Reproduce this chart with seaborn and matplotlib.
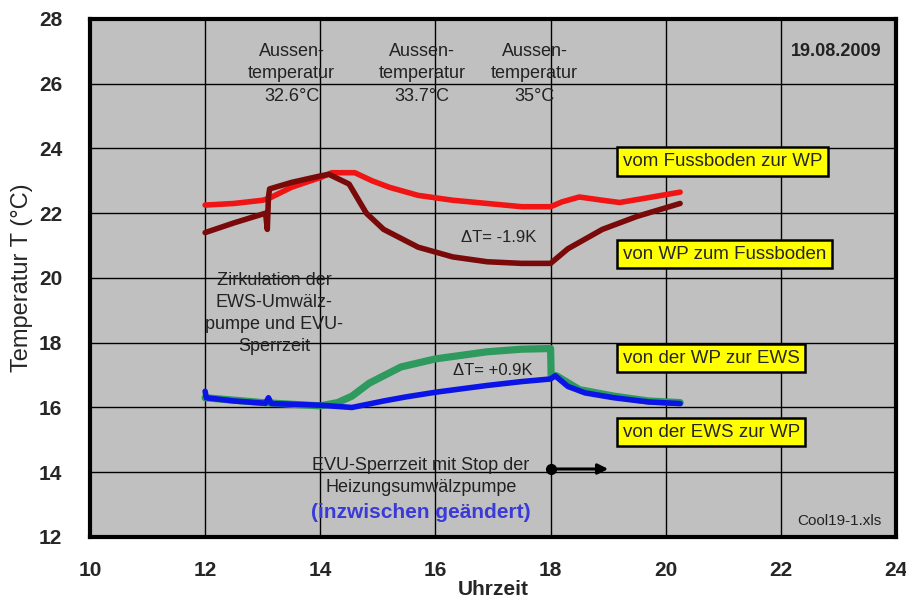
import numpy as np
import pandas as pd
import seaborn as sns
import matplotlib.pyplot as plt
from matplotlib.ticker import MultipleLocator

# series (time in h, temperature in °C)
red_x = [12.0, 12.5, 13.0, 13.1, 13.5, 14.0, 14.2, 14.6, 14.9, 15.2, 15.7, 16.3, 16.9,
         17.5, 18.0, 18.2, 18.5, 18.9, 19.2, 19.7, 20.25]
red_y = [22.25, 22.3, 22.4, 22.45, 22.8, 23.1, 23.25, 23.25, 23.0, 22.8, 22.55, 22.4, 22.3,
         22.2, 22.2, 22.35, 22.5, 22.4, 22.33, 22.48, 22.65]

dred_x = [12.0, 12.5, 13.05, 13.08, 13.1, 13.12, 13.5, 14.0, 14.15, 14.5, 14.8, 15.1, 15.7,
          16.3, 16.9, 17.5, 18.0, 18.3, 18.6, 18.9, 19.5, 20.25]
dred_y = [21.4, 21.7, 22.0, 21.5, 22.5, 22.75, 22.95, 23.15, 23.2, 22.9, 22.0, 21.5, 20.95,
          20.65, 20.5, 20.45, 20.45, 20.9, 21.2, 21.5, 21.9, 22.3]

green_x = [12.0, 13.0, 14.0, 14.3, 14.55, 14.85, 15.4, 16.0, 16.9, 17.5, 18.0, 18.01, 18.1,
           18.5, 19.1, 19.7, 20.25]
green_y = [16.3, 16.15, 16.05, 16.15, 16.35, 16.75, 17.25, 17.5, 17.72, 17.8, 17.82, 17.0, 16.98,
           16.55, 16.35, 16.2, 16.15]

blue_x = [12.0, 12.02, 12.5, 13.05, 13.1, 13.15, 13.5, 14.0, 14.55, 15.1, 15.5, 16.0, 16.9,
          17.5, 18.0, 18.08, 18.3, 18.6, 19.1, 19.7, 20.25]
blue_y = [16.5, 16.3, 16.2, 16.13, 16.3, 16.12, 16.1, 16.07, 16.0, 16.2, 16.33, 16.47, 16.68,
          16.8, 16.88, 16.98, 16.65, 16.45, 16.3, 16.17, 16.12]

x_ticks = [10, 12, 14, 16, 18, 20, 22, 24]
y_ticks = [12, 14, 16, 18, 20, 22, 24, 26, 28]

sns.set_style('white')
plt.rcParams['font.family'] = ['Liberation Sans', 'DejaVu Sans']

fig = plt.figure(figsize=(9.06, 6.1), dpi=100)
ax = fig.add_axes([0.0993, 0.1197, 0.8897, 0.8493])
ax.set_facecolor('#C0C0C0')

sns.lineplot(x=green_x, y=green_y, sort=False, color='#2E9A5E', lw=5.2, ax=ax)
sns.lineplot(x=blue_x, y=blue_y, sort=False, color='#0A14E6', lw=4, ax=ax)
sns.lineplot(x=red_x, y=red_y, sort=False, color='#F01414', lw=4, ax=ax)
sns.lineplot(x=dred_x, y=dred_y, sort=False, color='#7A0A0A', lw=4, ax=ax)

ax.set_xlim(10, 24)
ax.set_ylim(12, 28)
ax.set_xticks(x_ticks)
ax.set_yticks(y_ticks)
ax.xaxis.set_minor_locator(MultipleLocator(1))
ax.yaxis.set_minor_locator(MultipleLocator(1))
ax.grid(True, which='major', color='black', lw=1)
ax.set_axisbelow(True)
ax.tick_params(which='major', length=0, labelsize=15)
ax.tick_params(axis='x', which='major', pad=17)
ax.tick_params(axis='y', which='major', pad=20)
ax.tick_params(which='minor', direction='in', length=5, width=1, color='black')
for lab in ax.get_xticklabels() + ax.get_yticklabels():
    lab.set_fontweight('bold')
for sp in ax.spines.values():
    sp.set_visible(True)
    sp.set_color('black')
    sp.set_linewidth(3)

ax.set_xlabel('Uhrzeit', fontsize=15, fontweight='bold', labelpad=0)
ax.set_ylabel('Temperatur T (°C)', fontsize=17, labelpad=4)

txt = dict(color='#222222', fontsize=13, ha='center', va='center', linespacing=1.4)
ax.text(13.5, 26.3, 'Aussen-\ntemperatur\n32.6°C', **txt)
ax.text(15.77, 26.3, 'Aussen-\ntemperatur\n33.7°C', **txt)
ax.text(17.72, 26.3, 'Aussen-\ntemperatur\n35°C', **txt)
ax.text(23.75, 27.0, '19.08.2009', ha='right', va='center', fontsize=13,
        fontweight='bold', color='#222222')
ax.text(17.1, 21.25, 'ΔT= -1.9K', fontsize=12, ha='center', va='center', color='#222222')
ax.text(17.0, 17.15, 'ΔT= +0.9K', fontsize=12, ha='center', va='center', color='#222222')
ax.text(13.2, 18.9, 'Zirkulation der\nEWS-Umwälz-\npumpe und EVU-\nSperrzeit', **txt)
ax.text(15.75, 13.88, 'EVU-Sperrzeit mit Stop der\nHeizungsumwälzpumpe', **txt)
ax.text(15.75, 12.76, '(inzwischen geändert)', fontsize=15, fontweight='bold',
        color='#3A3AD8', ha='center', va='center')
ax.text(23.75, 12.5, 'Cool19-1.xls', ha='right', va='center', fontsize=11, color='#222222')

box = dict(boxstyle='square,pad=0.3', facecolor='#FFFF00', edgecolor='black', lw=1.8)
ax.text(19.25, 23.6, 'vom Fussboden zur WP', fontsize=13.5, ha='left', va='center', bbox=box)
ax.text(19.25, 20.73, 'von WP zum Fussboden', fontsize=13.5, ha='left', va='center', bbox=box)
ax.text(19.25, 17.52, 'von der WP zur EWS', fontsize=13.5, ha='left', va='center', bbox=box)
ax.text(19.25, 15.24, 'von der EWS zur WP', fontsize=13.5, ha='left', va='center', bbox=box)

ax.plot([18.0], [14.1], marker='o', color='black', ms=7)
ax.annotate('', xy=(19.05, 14.1), xytext=(18.0, 14.1),
            arrowprops=dict(arrowstyle='-|>', color='black', lw=2.2, mutation_scale=15))

fig.savefig('out.png', dpi=100)
